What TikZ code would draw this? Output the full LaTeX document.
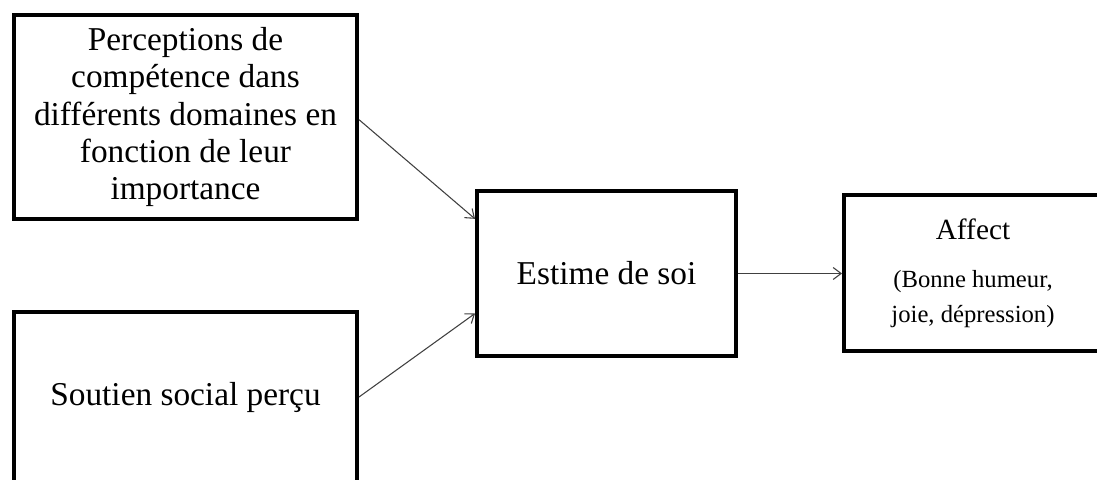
\documentclass[tikz,border=0pt]{standalone}
\usepackage{fontspec}
\setmainfont{Liberation Serif}
\usepackage{tikz}
\usetikzlibrary{positioning,arrows.meta}

\newcommand{\bigtxt}{\fontsize{25}{28}\selectfont}
\newcommand{\affecttxt}{\fontsize{22}{26}\selectfont}
\newcommand{\smalltxt}{\fontsize{18.5}{19.5}\selectfont}

\tikzset{
  facteur/.style={draw=black, line width=3pt, fill=white, align=center, inner sep=0pt, font=\bigtxt},
  fleche/.style={draw={rgb, 255:red, 64; green, 64; blue, 64}, line width=0.8pt, -{Straight Barb[length=6pt,width=9pt]}}
}

\begin{document}
\begin{tikzpicture}[x=0.75pt,y=0.75pt,yscale=-1,xscale=1]
%set diagram left start at 0, and has height of 479
\useasboundingbox (0,0) rectangle (1097,479);

%Shape: Rectangle [id:perc]
\node [facteur, minimum width=257.25pt, minimum height=153pt] (perc) at (185.5,117)
  {Perceptions de\\compétence dans\\différents domaines en\\fonction de leur\\importance};
%Shape: Rectangle [id:soutien]
\node [facteur, minimum width=257.25pt, minimum height=127.5pt] (soutien) at (185.5,397)
  {Soutien social perçu};
%Shape: Rectangle [id:estime]
\node [facteur, minimum width=194.25pt, minimum height=123.75pt] (estime) at (606.5,273.5)
  {Estime de soi};
%Shape: Rectangle [id:affect]
\node [facteur, minimum width=193.5pt, minimum height=117pt] (affect) at (973,273)
  {{\affecttxt Affect}\\[8pt]{\smalltxt (Bonne humeur,}\\[-2pt]{\smalltxt joie, dépression)}};

%Straight Lines [id:perc-estime]
\draw [fleche] ([yshift=2pt]perc.east) -- ([yshift=-41pt]estime.west) ;
%Straight Lines [id:soutien-estime]
\draw [fleche] (soutien.east) -- ([yshift=30pt]estime.west) ;
%Straight Lines [id:estime-affect]
\draw [fleche] (estime.east) -- (affect.west |- estime.east) ;

\end{tikzpicture}
\end{document}
